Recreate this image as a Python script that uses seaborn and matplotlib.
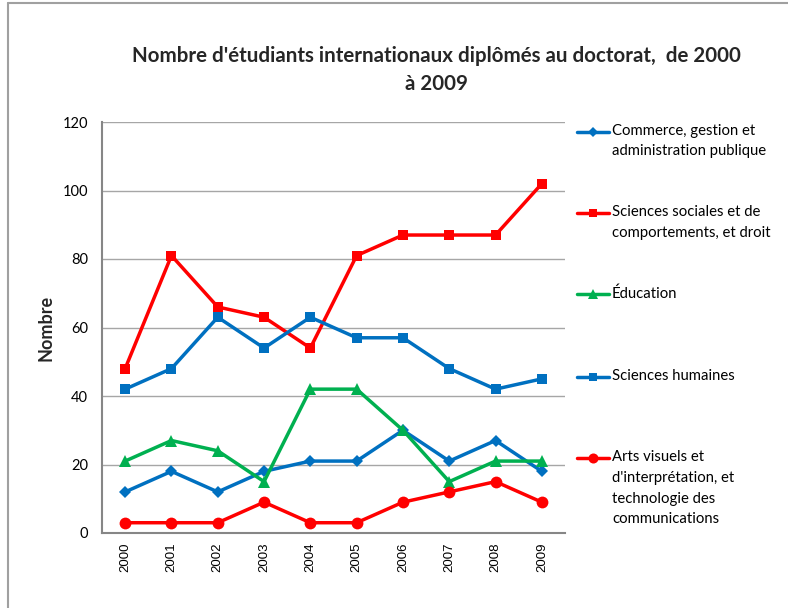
import matplotlib
matplotlib.use("Agg")
import matplotlib.pyplot as plt
import seaborn as sns
import pandas as pd
from matplotlib.lines import Line2D

# Données : diplômés au doctorat par domaine d'études
years = ["2000", "2001", "2002", "2003", "2004", "2005", "2006", "2007", "2008", "2009"]
commerce = [12, 18, 12, 18, 21, 21, 30, 21, 27, 18]
sciences_sociales = [48, 81, 66, 63, 54, 81, 87, 87, 87, 102]
education = [21, 27, 24, 15, 42, 42, 30, 15, 21, 21]
sciences_humaines = [42, 48, 63, 54, 63, 57, 57, 48, 42, 45]
arts = [3, 3, 3, 9, 3, 3, 9, 12, 15, 9]

labels = [
    "Commerce, gestion et\nadministration publique",
    "Sciences sociales et de\ncomportements, et droit",
    "Éducation",
    "Sciences humaines",
    "Arts visuels et\nd'interprétation, et\ntechnologie des\ncommunications",
]
values = [commerce, sciences_sociales, education, sciences_humaines, arts]

BLUE, RED, GREEN = "#0070C0", "#FF0000", "#00B050"
styles = [
    dict(color=BLUE, marker="D", ms=6.5),
    dict(color=RED, marker="s", ms=7.5),
    dict(color=GREEN, marker="^", ms=8.5),
    dict(color=BLUE, marker="s", ms=7.5),
    dict(color=RED, marker="o", ms=8.5),
]

sns.set_theme(style="white")
plt.rcParams["font.family"] = ["Lato", "DejaVu Sans"]

W, H = 788, 608
fig = plt.figure(figsize=(W / 100, H / 100), dpi=100)
fig.patch.set_facecolor("white")


def fx(px):
    return px / W


def fy(py):
    return 1 - py / H


ax = fig.add_axes([fx(102), fy(533), fx(565) - fx(102), fy(122) - fy(533)])

pos = list(range(len(years)))
for lab, vals, st in zip(labels, values, styles):
    df = pd.DataFrame({"annee": pos, "nombre": vals})
    sns.lineplot(
        data=df, x="annee", y="nombre", ax=ax,
        color=st["color"], marker=st["marker"], markersize=st["ms"],
        markeredgewidth=0, linewidth=2.5, legend=False,
    )

ax.set_xlim(-0.5, len(years) - 0.5)
ax.set_ylim(0, 120)
ax.set_yticks(range(0, 121, 20))
ax.set_xticks(pos)
ax.set_xticklabels(years, rotation=90, fontsize=9.5, family="Liberation Sans", color="#000000")
ax.tick_params(axis="y", labelsize=10.5, length=0, pad=10, colors="#000000")
ax.tick_params(axis="x", length=0, pad=7)
ax.yaxis.grid(True, color="#A6A6A6", linewidth=1.0)
ax.set_axisbelow(True)
for side in ("top", "right"):
    ax.spines[side].set_visible(False)
for side in ("left", "bottom"):
    ax.spines[side].set_color("#868686")
    ax.spines[side].set_linewidth(1.5)
ax.set_xlabel("")
ax.set_ylabel("Nombre", fontsize=13, fontweight="bold", labelpad=6)

# Titre
fig.text(fx(436), fy(69.5), "Nombre d'étudiants internationaux diplômés au doctorat,  de 2000\nà 2009",
         ha="center", va="center", fontsize=14.8, fontweight="bold", linespacing=1.5)

# Légende à droite
entry_y = [131.5, 213, 294, 376.5, 458]
for lab, st, ey in zip(labels, styles, entry_y):
    ln = Line2D([fx(577), fx(593), fx(609)], [fy(ey)] * 3, transform=fig.transFigure,
                color=st["color"], linewidth=2.5, marker=st["marker"],
                markersize=st["ms"] * 0.85, markeredgewidth=0, markevery=[1])
    fig.add_artist(ln)
    fig.text(fx(612), fy(ey - 8), lab, ha="left", va="top", fontsize=10.7,
             linespacing=1.62, color="#000000")

# Cadre du graphique
fig.add_artist(Line2D([fx(8), 1], [fy(3), fy(3)], transform=fig.transFigure,
                      color="#A0A0A0", linewidth=1.5))
fig.add_artist(Line2D([fx(8), fx(8)], [0, fy(3)], transform=fig.transFigure,
                      color="#A0A0A0", linewidth=1.5))

fig.savefig("out.png", dpi=100)
